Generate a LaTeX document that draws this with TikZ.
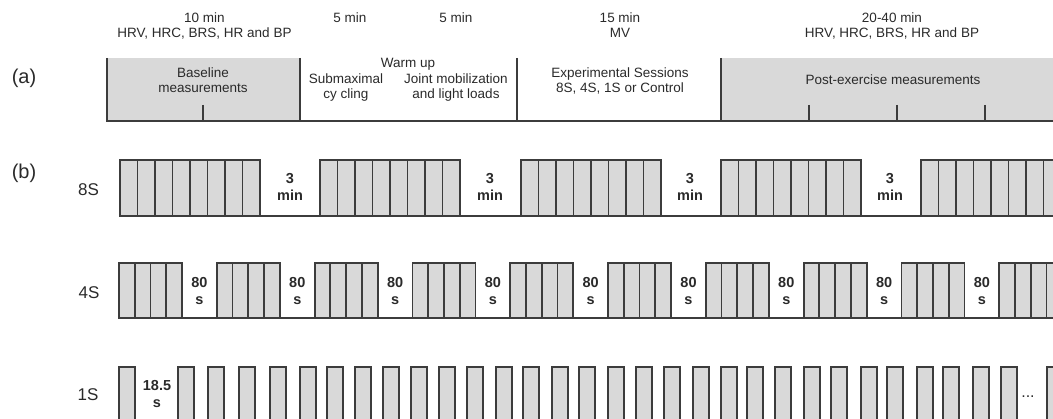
\documentclass[tikz,border=0pt]{standalone}
\usepackage{fontspec}
\setmainfont{Liberation Sans}
\usepackage{xcolor}
\definecolor{boxgrey}{HTML}{D9D9D9}
\definecolor{linegrey}{HTML}{3C3C3C}
\definecolor{txtgrey}{HTML}{2A2A2A}

\begin{document}
\begin{tikzpicture}[x=1pt,y=-1pt,line width=1.8pt,
  cell/.style={draw=linegrey,fill=boxgrey},
  txt/.style={inner sep=0pt,text=txtgrey,font=\fontsize{13.5}{15}\selectfont,align=center},
  gap/.style={inner sep=0pt,text=txtgrey,font=\fontsize{14.5}{17}\selectfont\bfseries,align=center},
  tag/.style={inner sep=0pt,text=txtgrey,font=\fontsize{17}{20}\selectfont}]
\useasboundingbox (0,0) rectangle (1053,419);
% (a) protocol
\fill[boxgrey] (107,58) rectangle (300,121);
\fill[boxgrey] (721,58) rectangle (1060,121);
\draw[linegrey] (107,58)--(107,121)--(1060,121);
\foreach \x in {300,517,721} \draw[linegrey] (\x,58)--(\x,121);
\foreach \x in {203,809,897,985} \draw[linegrey] (\x,105)--(\x,121);
\node[tag,font=\fontsize{20}{22}\selectfont] (a) at (24,78) {(a)};
\node[txt] (t10) at (204.5,25.5) {10 min\\HRV, HRC, BRS, HR and BP};
\node[txt] (t5a) at (350,18) {5 min};
\node[txt] (t5b) at (456,18) {5 min};
\node[txt] (t15) at (620,25.5) {15 min\\MV};
\node[txt] (t20) at (892,25.5) {20-40 min\\HRV, HRC, BRS, HR and BP};
\node[txt] (base) at (203,80.5) {Baseline\\measurements};
\node[txt] (warm) at (408,64) {Warm up};
\node[txt] (cyc) at (346,87.5) {Submaximal\\cy cling};
\node[txt] (joint) at (456,87.5) {Joint mobilization\\and light loads};
\node[txt] (exp) at (620,80.5) {Experimental Sessions\\8S, 4S, 1S or Control};
\node[txt] (post) at (893,80) {Post-exercise measurements};
% (b) sessions
\node[tag,font=\fontsize{20}{22}\selectfont] (b) at (24,173) {(b)};
\node[tag] (r8) at (88.5,190) {8S};
\node[tag] (r4) at (89,293) {4S};
\node[tag] (r1) at (88,395) {1S};
% 8S
\foreach \s in {120,320,521,721,921}{
  \draw[cell] (\s,160) rectangle ++(140,56);
  \foreach \i in {1,...,7} \draw[linegrey] (\s+17.5*\i,160)--++(0,56);
}
\draw[linegrey] (119,216)--(1060,216);
\foreach \s [count=\k] in {290,490,690,890}
  \node[gap] (rest8-\k) at (\s,187) {3\\min};
% 4S
\foreach \k in {0,...,9}{
  \draw[cell] (119+97.8*\k,263) rectangle ++(63,55);
  \foreach \i in {1,...,3} \draw[linegrey] (119+97.8*\k+15.75*\i,263)--++(0,55);
}
\draw[linegrey] (119,318)--(1060,318);
\foreach \k in {0,...,8}
  \node[gap] (rest4-\k) at (199.5+97.8*\k,291) {80\\s};
% 1S
\foreach \x in {119,178,208,239,270,300,327,355,383,411,439,467,496,523,552,579,608,636,664,693,721,747,775,804,831,861,887,917,943,973,1001,1047}
  \draw[cell] (\x,367) rectangle ++(16,56);
\node[gap] (rest1) at (157,394) {18.5\\s};
\node[txt,font=\fontsize{16}{18}\selectfont] (more) at (1028,397) {...};
\end{tikzpicture}
\end{document}
